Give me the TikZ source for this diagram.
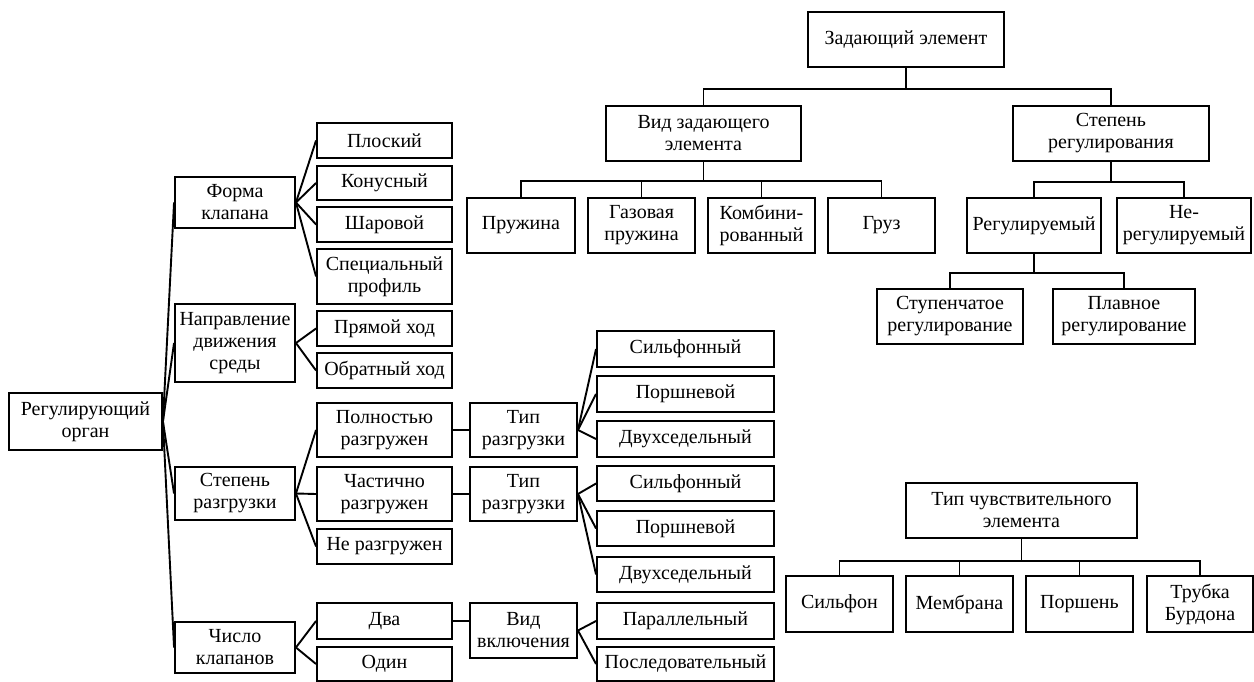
\documentclass[tikz,border=0pt]{standalone}
\usepackage{fontspec}
\setmainfont{Liberation Serif}
\usepackage{tikz}
\usetikzlibrary{positioning,calc}

\begin{document}
\begin{tikzpicture}[
    x=1pt, y=-1pt,
    cell/.style 2 args={draw, line width=1.9pt, minimum width=#1pt, minimum height=#2pt, inner sep=0pt, align=center, font=\fontsize{20}{22}\selectfont},
    link/.style={line width=1.9pt}
]
\useasboundingbox (0,0) rectangle (1254,682);

% Regulating body
\node[cell={153}{57}] (root) at (85.5,421.5) {Регулирующий\\орган};
\node[cell={120}{51}] (forma) at (235,202.5) {Форма\\клапана};
\node[cell={120}{78}] (naprav) at (235,343) {Направление\\движения\\среды};
\node[cell={120}{53}] (stepraz) at (235,493.5) {Степень\\разгрузки};
\node[cell={120}{51}] (chislo) at (235,647.5) {Число\\клапанов};
\foreach \n in {forma,naprav,stepraz,chislo}
    \draw[link] (root.east) -- (\n.west);

\node[cell={135}{35}] (ploskiy) at (384.5,140.5) {Плоский};
\node[cell={135}{34}] (konus) at (384.5,183) {Конусный};
\node[cell={135}{35}] (shar) at (384.5,224.5) {Шаровой};
\node[cell={135}{55}] (spec) at (384.5,276.5) {Специальный\\профиль};
\foreach \n in {ploskiy,konus,shar,spec}
    \draw[link] (forma.east) -- (\n.west);

\node[cell={135}{35}] (pryam) at (384.5,328.5) {Прямой ход};
\node[cell={135}{35}] (obrat) at (384.5,370.5) {Обратный ход};
\draw[link] (naprav.east) -- (pryam.west);
\draw[link] (naprav.east) -- (obrat.west);

\node[cell={135}{54}] (polnost) at (384.5,430) {Полностью\\разгружен};
\node[cell={135}{54}] (chastich) at (384.5,494) {Частично\\разгружен};
\node[cell={135}{35}] (neraz) at (384.5,546.5) {Не разгружен};
\foreach \n in {polnost,chastich,neraz}
    \draw[link] (stepraz.east) -- (\n.west);

\node[cell={135}{36}] (dva) at (384.5,621) {Два};
\node[cell={135}{34}] (odin) at (384.5,664) {Один};
\draw[link] (chislo.east) -- (dva.west);
\draw[link] (chislo.east) -- (odin.west);

% Unloading type
\node[cell={107}{54}] (tipa) at (523.5,430) {Тип\\разгрузки};
\node[cell={107}{54}] (tipb) at (523.5,494) {Тип\\разгрузки};
\node[cell={107}{55}] (vidvkl) at (523.5,630.5) {Вид\\включения};
\draw[link] (polnost) -- (tipa);
\draw[link] (chastich) -- (tipb);
\draw[link] (dva.east) -- (vidvkl.west |- dva.east);

\node[cell={177}{36}] (silfa) at (685.5,349) {Сильфонный};
\node[cell={177}{36}] (porsha) at (685.5,394) {Поршневой};
\node[cell={177}{36}] (dvuha) at (685.5,439) {Двухседельный};
\node[cell={177}{35}] (silfb) at (685.5,483.5) {Сильфонный};
\node[cell={177}{35}] (porshb) at (685.5,528.5) {Поршневой};
\node[cell={177}{35}] (dvuhb) at (685.5,574.5) {Двухседельный};
\node[cell={177}{36}] (paral) at (685.5,621) {Параллельный};
\node[cell={177}{34}] (posled) at (685.5,664) {Последовательный};
\foreach \n in {silfa,porsha,dvuha}
    \draw[link] (tipa.east) -- (\n.west);
\foreach \n in {silfb,porshb,dvuhb}
    \draw[link] (tipb.east) -- (\n.west);
\draw[link] (vidvkl.east) -- (paral.west);
\draw[link] (vidvkl.east) -- (posled.west);

% Setting element
\node[cell={196}{55}] (zadel) at (906,39.5) {Задающий элемент};
\node[cell={195}{55}] (vidzad) at (703.5,133.5) {Вид задающего\\элемента};
\node[cell={196}{55}] (stepreg) at (1111,133.5) {Степень\\регулирования};
\draw[link] (zadel.south) -- ++(0,21) -| (vidzad.north);
\draw[link] (zadel.south) -- ++(0,21) -| (stepreg.north);

\node[cell={108}{55}] (pruzh) at (521,225.5) {Пружина};
\node[cell={107}{55}] (gaz) at (641.5,225.5) {Газовая\\пружина};
\node[cell={107}{55}] (komb) at (761.5,225.5) {Комбини-\\рованный};
\node[cell={107}{55}] (gruz) at (881.5,225.5) {Груз};
\foreach \n in {pruzh,gaz,komb,gruz}
    \draw[link] (vidzad.south) -- ++(0,19) -| (\n.north);

\node[cell={134}{55}] (regul) at (1034,225.5) {Регулируемый};
\node[cell={134}{55}] (nereg) at (1184,225.5) {Не-\\регулируемый};
\draw[link] (stepreg.south) -- ++(0,20) -| (regul.north);
\draw[link] (stepreg.south) -- ++(0,20) -| (nereg.north);

\node[cell={146}{55}] (stup) at (950,316.5) {Ступенчатое\\регулирование};
\node[cell={142}{55}] (plavn) at (1124,316.5) {Плавное\\регулирование};
\draw[link] (regul.south) -- ++(0,19) -| (stup.north);
\draw[link] (regul.south) -- ++(0,19) -| (plavn.north);

% Sensing element
\node[cell={231}{55}] (tipch) at (1021.5,510.5) {Тип чувствительного\\элемента};
\node[cell={107}{56}] (silfon) at (839.5,604) {Сильфон};
\node[cell={107}{56}] (membr) at (959.5,604) {Мембрана};
\node[cell={107}{56}] (porshen) at (1079.5,604) {Поршень};
\node[cell={106}{56}] (trubka) at (1200,604) {Трубка\\Бурдона};
\foreach \n in {silfon,membr,porshen,trubka}
    \draw[link] (tipch.south) -- ++(0,22) -| (\n.north);
\end{tikzpicture}
\end{document}
